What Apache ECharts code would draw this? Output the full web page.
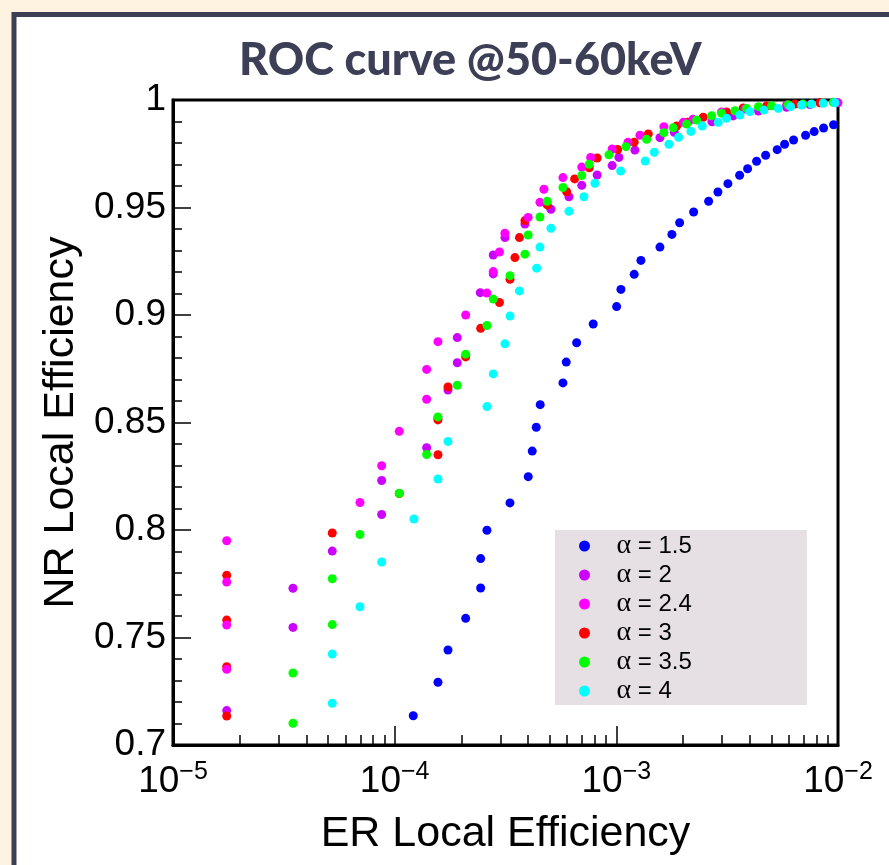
<!DOCTYPE html>
<html>
<head>
<meta charset="utf-8">
<script src="https://cdn.jsdelivr.net/npm/echarts@6/dist/echarts.min.js"></script>
<style>
  html, body { margin: 0; padding: 0; background: #fdf3e0; }
  #chart { width: 889px; height: 865px; }
</style>
</head>
<body>
<div id="chart"></div>
<script>
// ---- data ----
const seriesNames = ['α = 1.5', 'α = 2', 'α = 2.4', 'α = 3', 'α = 3.5', 'α = 4'];

const er_a15 = [1.213e-4, 1.568e-4, 1.740e-4, 2.091e-4, 2.443e-4, 2.443e-4, 2.608e-4, 3.313e-4, 4.005e-4, 4.175e-4, 4.352e-4, 4.536e-4, 5.742e-4, 5.943e-4, 6.621e-4, 7.865e-4, 1.003e-3, 1.049e-3, 1.204e-3, 1.291e-3, 1.573e-3, 1.781e-3, 1.930e-3, 2.232e-3, 2.608e-3, 2.873e-3, 3.187e-3, 3.599e-3, 3.910e-3, 4.293e-3, 4.715e-3, 5.318e-3, 5.743e-3, 6.303e-3, 7.142e-3, 7.808e-3, 8.610e-3, 9.552e-3];
const nr_a15 = [0.7136, 0.7292, 0.7442, 0.7589, 0.7730, 0.7867, 0.7999, 0.8126, 0.8248, 0.8367, 0.8478, 0.8583, 0.8684, 0.8781, 0.8871, 0.8958, 0.9039, 0.9119, 0.9189, 0.9254, 0.9316, 0.9375, 0.9429, 0.9479, 0.9529, 0.9572, 0.9611, 0.9650, 0.9680, 0.9715, 0.9743, 0.9769, 0.9794, 0.9814, 0.9836, 0.9853, 0.9870, 0.9885];

const er_a20 = [1.747e-5, 3.477e-5, 3.477e-5, 5.230e-5, 8.737e-5, 8.737e-5, 1.394e-4, 1.568e-4, 1.740e-4, 1.916e-4, 1.916e-4, 2.433e-4, 2.784e-4, 2.784e-4, 3.144e-4, 3.870e-4, 5.070e-4, 6.112e-4, 6.982e-4, 8.192e-4, 9.575e-4, 1.027e-3, 1.213e-3, 1.573e-3, 1.825e-3, 2.699e-3, 3.368e-3, 4.375e-3, 5.864e-3, 7.469e-3, 9.683e-3];
const nr_a20 = [0.7160, 0.7729, 0.7547, 0.7902, 0.8072, 0.8230, 0.8383, 0.8521, 0.8651, 0.8778, 0.8895, 0.9104, 0.9191, 0.9279, 0.9360, 0.9423, 0.9492, 0.9550, 0.9603, 0.9651, 0.9695, 0.9733, 0.9767, 0.9825, 0.9850, 0.9899, 0.9926, 0.9949, 0.9966, 0.9979, 0.9988];

const er_a24 = [1.747e-5, 1.747e-5, 1.747e-5, 1.747e-5, 6.975e-5, 8.737e-5, 1.049e-4, 1.394e-4, 1.394e-4, 1.568e-4, 2.091e-4, 2.608e-4, 2.784e-4, 2.970e-4, 3.144e-4, 4.001e-4, 4.522e-4, 4.714e-4, 5.742e-4, 6.982e-4, 7.658e-4, 9.575e-4, 1.128e-3, 1.278e-3, 1.639e-3, 2.004e-3, 2.216e-3, 2.985e-3, 3.802e-3, 5.864e-3, 1.0e-2];
const nr_a24 = [0.7950, 0.7758, 0.7558, 0.7352, 0.8128, 0.8299, 0.8459, 0.8608, 0.8747, 0.8876, 0.9000, 0.9102, 0.9202, 0.9293, 0.9380, 0.9454, 0.9524, 0.9585, 0.9639, 0.9688, 0.9733, 0.9772, 0.9803, 0.9836, 0.9876, 0.9896, 0.9910, 0.9944, 0.9958, 0.9977, 0.9987];

const er_a30 = [1.747e-5, 1.747e-5, 1.747e-5, 1.747e-5, 5.230e-5, 1.049e-4, 1.568e-4, 1.568e-4, 1.740e-4, 2.091e-4, 2.443e-4, 2.970e-4, 3.313e-4, 3.487e-4, 3.655e-4, 3.870e-4, 4.879e-4, 5.968e-4, 6.484e-4, 7.548e-4, 8.192e-4, 1.014e-3, 1.204e-3, 1.393e-3, 1.871e-3, 2.097e-3, 2.466e-3, 3.144e-3, 3.737e-3, 4.763e-3, 6.392e-3, 8.287e-3];
const nr_a30 = [0.7789, 0.7581, 0.7364, 0.7135, 0.7986, 0.8170, 0.8350, 0.8512, 0.8665, 0.8805, 0.8938, 0.9058, 0.9166, 0.9267, 0.9360, 0.9439, 0.9512, 0.9573, 0.9633, 0.9685, 0.9730, 0.9770, 0.9804, 0.9842, 0.9879, 0.9896, 0.9920, 0.9944, 0.9963, 0.9972, 0.9981, 0.9987];

const er_a35 = [3.477e-5, 3.477e-5, 5.230e-5, 5.230e-5, 6.975e-5, 1.049e-4, 1.394e-4, 1.568e-4, 1.916e-4, 2.091e-4, 2.608e-4, 2.784e-4, 3.313e-4, 3.870e-4, 4.001e-4, 4.522e-4, 4.879e-4, 5.742e-4, 6.982e-4, 7.548e-4, 9.260e-4, 1.105e-3, 1.370e-3, 1.639e-3, 1.806e-3, 2.076e-3, 2.303e-3, 2.691e-3, 2.985e-3, 3.428e-3, 3.870e-3, 4.375e-3, 5.017e-3, 5.963e-3, 6.946e-3, 9.515e-3];
const nr_a35 = [0.7335, 0.7101, 0.7773, 0.7560, 0.7979, 0.8171, 0.8351, 0.8526, 0.8673, 0.8818, 0.8951, 0.9074, 0.9183, 0.9283, 0.9372, 0.9456, 0.9529, 0.9593, 0.9649, 0.9701, 0.9745, 0.9783, 0.9817, 0.9848, 0.9871, 0.9888, 0.9907, 0.9927, 0.9938, 0.9950, 0.9961, 0.9969, 0.9973, 0.9978, 0.9981, 0.9989];

const er_a40 = [5.230e-5, 5.230e-5, 6.975e-5, 8.737e-5, 1.222e-4, 1.568e-4, 1.740e-4, 2.608e-4, 2.784e-4, 3.144e-4, 3.313e-4, 3.655e-4, 4.370e-4, 4.522e-4, 5.070e-4, 6.112e-4, 7.144e-4, 8.007e-4, 1.046e-3, 1.350e-3, 1.483e-3, 1.727e-3, 1.910e-3, 2.170e-3, 2.441e-3, 2.883e-3, 3.144e-3, 3.610e-3, 4.005e-3, 4.632e-3, 5.374e-3, 6.112e-3, 6.852e-3, 7.601e-3, 8.577e-3, 9.683e-3];
const nr_a40 = [0.7423, 0.7194, 0.7643, 0.7851, 0.8051, 0.8237, 0.8412, 0.8574, 0.8726, 0.8866, 0.8995, 0.9112, 0.9218, 0.9316, 0.9403, 0.9482, 0.9550, 0.9613, 0.9670, 0.9716, 0.9757, 0.9794, 0.9827, 0.9854, 0.9879, 0.9896, 0.9915, 0.9930, 0.9946, 0.9953, 0.9961, 0.9969, 0.9977, 0.9981, 0.9985, 0.9987];

const xMajorTicks = [1e-5, 1e-4, 1e-3, 1e-2];
const xMinorTicks = [2e-5, 3e-5, 4e-5, 5e-5, 6e-5, 7e-5, 8e-5, 9e-5,
                     2e-4, 3e-4, 4e-4, 5e-4, 6e-4, 7e-4, 8e-4, 9e-4,
                     2e-3, 3e-3, 4e-3, 5e-3, 6e-3, 7e-3, 8e-3, 9e-3];
const yMin = 0.7, yMax = 1.0, yStep = 0.05;

// ---- chart ----
const colors = {
  'α = 1.5': '#0000ff',
  'α = 2':   '#cc00ff',
  'α = 2.4': '#ff00ff',
  'α = 3':   '#ff0000',
  'α = 3.5': '#00ff00',
  'α = 4':   '#00ffff'
};
function zip(xs, ys) { const out = []; for (let i = 0; i < Math.min(xs.length, ys.length); i++) out.push([xs[i], ys[i]]); return out; }
const drawOrder = [
  ['α = 1.5', er_a15, nr_a15],
  ['α = 2',   er_a20, nr_a20],
  ['α = 3',   er_a30, nr_a30],
  ['α = 2.4', er_a24, nr_a24],
  ['α = 3.5', er_a35, nr_a35],
  ['α = 4',   er_a40, nr_a40]
];

const chart = echarts.init(document.getElementById('chart'), null, { renderer: 'canvas' });
const font = 'Liberation Sans, Arial, Helvetica, sans-serif';

const option = {
  backgroundColor: '#fdf3e0',
  animation: false,
  graphic: [{
    type: 'rect', z: -10, silent: true,
    shape: { x: 14, y: 14.5, width: 1000, height: 1000 },
    style: { fill: '#ffffff', stroke: '#3d4055', lineWidth: 5 }
  }],
  title: {
    text: 'ROC curve @50-60keV',
    left: 234, top: 33,
    textStyle: { fontFamily: 'Lato, Open Sans, sans-serif', fontWeight: 900, fontSize: 45, color: '#3c3f55' }
  },
  legend: {
    orient: 'vertical',
    left: 555, top: 530,
    padding: [2, 115, 0, 24],
    backgroundColor: '#e6e0e4',
    itemWidth: 40, itemHeight: 11,
    itemGap: 1,
    icon: 'circle',
    data: seriesNames,
    formatter: function (name) { return '{a|α}{b|' + name.slice(1) + '}'; },
    textStyle: {
      color: '#000', fontSize: 24, fontFamily: font, lineHeight: 24,
      rich: {
        a: { fontFamily: 'Liberation Serif, DejaVu Serif, serif', fontSize: 28, lineHeight: 24, padding: [0, 0, 0, 7] },
        b: { fontFamily: font, fontSize: 24, lineHeight: 24 }
      }
    }
  },
  grid: {
    left: 173, right: 51, top: 100, bottom: 120,
    show: true, borderColor: '#000', borderWidth: 3, backgroundColor: 'transparent'
  },
  xAxis: [{
    type: 'log', logBase: 10, min: 1e-5, max: 1e-2,
    name: 'ER Local Efficiency', nameLocation: 'middle', nameGap: 68,
    nameTextStyle: { fontFamily: font, fontSize: 43, color: '#000' },
    axisLine: { show: true, onZero: false, lineStyle: { color: '#000', width: 3 } },
    axisTick: { show: true, inside: true, length: 19, customValues: xMajorTicks, lineStyle: { color: '#000', width: 1.5 } },
    splitLine: { show: false },
    axisLabel: {
      customValues: xMajorTicks,
      margin: 15,
      formatter: function (v) { const e = Math.round(Math.log10(v)); return '{b|10}{s|' + (e < 0 ? '\u2212' + (-e) : e) + '}'; },
      rich: {
        b: { fontFamily: font, fontSize: 37, color: '#000', verticalAlign: 'bottom', lineHeight: 40 },
        s: { fontFamily: font, fontSize: 25, color: '#000', verticalAlign: 'top', lineHeight: 40, padding: [0, 0, 16, 0] }
      }
    }
  }, {
    type: 'log', logBase: 10, min: 1e-5, max: 1e-2, position: 'bottom', offset: 0,
    axisLine: { show: false },
    axisTick: { show: true, inside: true, length: 10, customValues: xMinorTicks, lineStyle: { color: '#000', width: 1.5 } },
    axisLabel: { show: false },
    splitLine: { show: false }
  }],
  yAxis: {
    type: 'value', min: yMin, max: yMax, interval: yStep,
    name: 'NR Local Efficiency', nameLocation: 'middle', nameGap: 90, nameRotate: 90,
    nameTextStyle: { fontFamily: font, fontSize: 43, color: '#000' },
    axisLine: { show: true, onZero: false, lineStyle: { color: '#000', width: 3 } },
    axisTick: { show: true, inside: true, length: 18, lineStyle: { color: '#000', width: 1.5 } },
    minorTick: { show: true, splitNumber: 5, length: 9, lineStyle: { color: '#000', width: 1.5 } },
    splitLine: { show: false },
    axisLabel: { fontFamily: font, fontSize: 37, color: '#000', margin: 7 }
  },
  series: drawOrder.map(function (d) {
    return {
      name: d[0], type: 'scatter', xAxisIndex: 0, yAxisIndex: 0,
      symbol: 'circle', symbolSize: 9,
      itemStyle: { color: colors[d[0]], opacity: 1 },
      data: zip(d[1], d[2])
    };
  })
};
chart.setOption(option);
</script>
</body>
</html>
